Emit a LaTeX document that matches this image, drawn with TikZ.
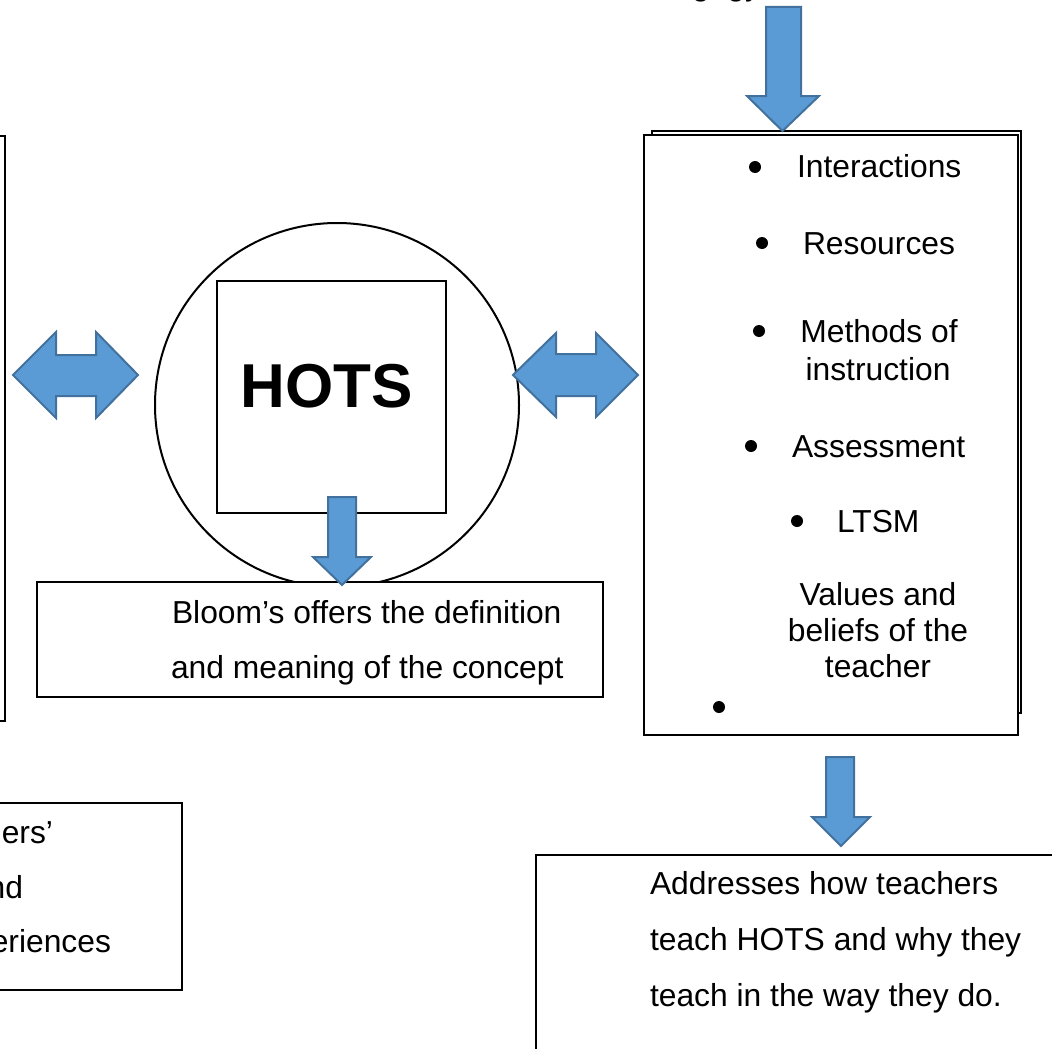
\documentclass[tikz,border=0pt]{standalone}
\usepackage{fontspec}
\setmainfont{Liberation Sans}
\definecolor{arrowfill}{HTML}{5B9BD5}
\definecolor{arrowline}{HTML}{41719C}
\tikzset{
  boxnode/.style={draw, line width=2pt, fill=white, inner sep=0pt, outer sep=0pt},
  blockarrow/.style={fill=arrowfill, draw=arrowline, line width=2pt, line join=miter},
  txt/.style={font=\fontsize{31.8}{38}\selectfont, inner sep=0pt, outer sep=0pt},
  dot/.style={circle, fill=black, inner sep=0pt, minimum size=12pt},
}
\begin{document}
\begin{tikzpicture}[x=1pt, y=-1pt]
\useasboundingbox (0,0) rectangle (1052,1049);

% partial title at the top
\node[txt, anchor=base east] (title) at (761,-4) {Pedagogy};

% left boxes (mostly outside the picture)
\node[boxnode, minimum width=309pt, minimum height=585pt] (leftbox) at (-150,428.5) {};
\node[boxnode, minimum width=382pt, minimum height=187pt] (leftbottom) at (-9,896.5) {};
\node[txt, anchor=base east] (lb1) at (53,843) {ers’};
\node[txt, anchor=base east] (lb2) at (23,898) {nd};
\node[txt, anchor=base east] (lb3) at (111,952) {eriences};

% circle with HOTS
\node[draw, circle, line width=2pt, minimum size=364pt, inner sep=0pt] (circ) at (337,405) {};
\node[boxnode, minimum width=229pt, minimum height=232pt] (hotsbox) at (331.5,397) {};
\node[font=\bfseries\fontsize{62}{70}\selectfont, inner sep=0pt, anchor=base] (hots) at (327,407) {HOTS};

% Bloom box
\node[boxnode, minimum width=566pt, minimum height=115pt] (bloom) at (320,639.5) {};
\node[txt, anchor=base west] (bl1) at (172,623) {Bloom’s offers the definition};
\node[txt, anchor=base west] (bl2) at (171,678) {and meaning of the concept};

% right box with shadow
\node[boxnode, minimum width=369pt, minimum height=582pt] (rightback) at (836.5,422) {};
\node[boxnode, minimum width=374pt, minimum height=600pt] (right) at (831,435) {};

\node[dot] (d1) at (755,167) {};
\node[txt, anchor=base west] (t1) at (797,177) {Interactions};
\node[dot] (d2) at (762,243) {};
\node[txt, anchor=base west] (t2) at (803,254) {Resources};
\node[dot] (d3) at (759,331) {};
\node[txt, anchor=base] (t3a) at (879,342) {Methods of};
\node[txt, anchor=base] (t3b) at (878,380) {instruction};
\node[dot] (d4) at (751,446) {};
\node[txt, anchor=base west] (t4) at (792,457) {Assessment};
\node[dot] (d5) at (797,521) {};
\node[txt, anchor=base west] (t5) at (837,532) {LTSM};
\node[txt, anchor=base] (t6a) at (878,605) {Values and};
\node[txt, anchor=base] (t6b) at (878,641) {beliefs of the};
\node[txt, anchor=base] (t6c) at (878,677) {teacher};
\node[dot] (d6) at (719,707) {};

% bottom right box
\node[boxnode, minimum width=764pt, minimum height=345pt] (bottomright) at (918,1027.5) {};
\node[txt, anchor=base west] (br1) at (650,894) {Addresses how teachers};
\node[txt, anchor=base west] (br2) at (650,950) {teach HOTS and why they};
\node[txt, anchor=base west] (br3) at (650,1006) {teach in the way they do.};

% block arrows
\draw[blockarrow] (766,7) -- (801,7) -- (801,96) -- (819,96) -- (782.5,131) -- (747,96) -- (766,96) -- cycle;
\draw[blockarrow] (13,375) -- (56,332) -- (56,355) -- (96,355) -- (96,332) -- (138,375) -- (96,418) -- (96,396) -- (56,396) -- (56,418) -- cycle;
\draw[blockarrow] (513,375) -- (556,333) -- (556,354) -- (596,354) -- (596,333) -- (638,375) -- (596,417) -- (596,396) -- (556,396) -- (556,417) -- cycle;
\draw[blockarrow] (328,497) -- (356,497) -- (356,557) -- (371,557) -- (342,585) -- (313,557) -- (328,557) -- cycle;
\draw[blockarrow] (826,757) -- (854,757) -- (854,817) -- (870,817) -- (841,846) -- (812,817) -- (826,817) -- cycle;
\end{tikzpicture}
\end{document}
